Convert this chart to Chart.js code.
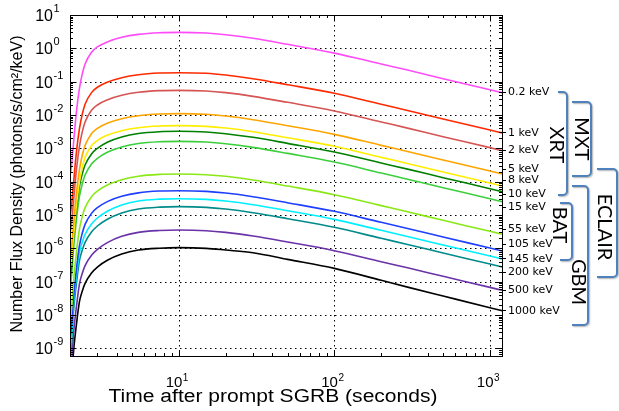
<!DOCTYPE html>
<html><head><meta charset="utf-8">
<script src="https://cdn.jsdelivr.net/npm/chart.js@4/dist/chart.umd.min.js"></script>
<style>html,body{margin:0;padding:0;background:#fff;overflow:hidden}</style>
</head><body>
<canvas id="c" width="619" height="411"></canvas>
<script>
// ---- data ----
const times = [2.0, 2.05, 2.1, 2.2, 2.3, 2.4, 2.5, 2.75, 3, 3.5, 4.3, 5.5, 7.5, 10, 15, 20, 30, 50, 100, 200, 300, 500, 1000, 1200];

const flux_0_2keV = [1.5e-4, 3.4e-4, 1.2e-3, 1.26e-2, 6.3e-2, 0.174, 0.34, 0.76, 1.10, 1.58, 2.14, 2.63, 2.95, 3.02, 2.88, 2.57, 2.0, 1.32, 0.72, 0.34, 0.219, 0.123, 0.0575, 0.0468];
const flux_1keV = [9.3e-6, 2.1e-5, 7.4e-5, 7.8e-4, 3.9e-3, 1.07e-2, 2.1e-2, 4.7e-2, 6.8e-2, 9.8e-2, 0.132, 0.162, 0.182, 0.186, 0.178, 0.158, 0.123, 0.0813, 0.0447, 0.0209, 0.0135, 7.6e-3, 3.55e-3, 2.9e-3];
const flux_2keV = [2.75e-6, 6.2e-6, 2.2e-5, 2.3e-4, 1.15e-3, 3.16e-3, 6.2e-3, 1.38e-2, 2.0e-2, 2.88e-2, 3.89e-2, 4.79e-2, 5.37e-2, 5.5e-2, 5.25e-2, 4.68e-2, 3.63e-2, 2.4e-2, 1.32e-2, 6.2e-3, 3.98e-3, 2.24e-3, 1.05e-3, 8.5e-4];
const flux_5keV = [5.5e-7, 1.23e-6, 4.37e-6, 4.57e-5, 2.3e-4, 6.3e-4, 1.23e-3, 2.75e-3, 3.98e-3, 5.75e-3, 7.76e-3, 9.55e-3, 1.07e-2, 1.10e-2, 1.05e-2, 9.33e-3, 7.24e-3, 4.79e-3, 2.63e-3, 1.23e-3, 7.94e-4, 4.47e-4, 2.09e-4, 1.70e-4];
const flux_8keV = [2.4e-7, 5.37e-7, 1.91e-6, 2.0e-5, 1.0e-4, 2.75e-4, 5.37e-4, 1.2e-3, 1.74e-3, 2.51e-3, 3.39e-3, 4.17e-3, 4.68e-3, 4.79e-3, 4.57e-3, 4.07e-3, 3.16e-3, 2.09e-3, 1.15e-3, 5.37e-4, 3.47e-4, 1.95e-4, 9.12e-5, 7.41e-5];
const flux_10keV = [1.15e-7, 3.24e-7, 1.62e-6, 1.48e-5, 7.24e-5, 1.74e-4, 3.16e-4, 6.76e-4, 1.0e-3, 1.55e-3, 2.19e-3, 2.79e-3, 3.16e-3, 3.24e-3, 3.09e-3, 2.75e-3, 2.14e-3, 1.41e-3, 7.76e-4, 3.63e-4, 2.34e-4, 1.32e-4, 6.17e-5, 5.01e-5];
const flux_15keV = [5.75e-8, 1.62e-7, 8.13e-7, 7.41e-6, 3.63e-5, 8.71e-5, 1.58e-4, 3.39e-4, 5.01e-4, 7.76e-4, 1.10e-3, 1.40e-3, 1.58e-3, 1.62e-3, 1.55e-3, 1.38e-3, 1.07e-3, 7.08e-4, 3.89e-4, 1.82e-4, 1.17e-4, 6.61e-5, 3.09e-5, 2.51e-5];
const flux_55keV = [6.03e-9, 1.70e-8, 8.51e-8, 7.76e-7, 3.80e-6, 9.12e-6, 1.66e-5, 3.55e-5, 5.25e-5, 8.13e-5, 1.15e-4, 1.46e-4, 1.66e-4, 1.70e-4, 1.62e-4, 1.45e-4, 1.12e-4, 7.41e-5, 4.07e-5, 1.91e-5, 1.23e-5, 6.92e-6, 3.24e-6, 2.63e-6];
const flux_105keV = [1.91e-9, 5.37e-9, 2.69e-8, 2.45e-7, 1.20e-6, 2.88e-6, 5.25e-6, 1.12e-5, 1.66e-5, 2.57e-5, 3.63e-5, 4.62e-5, 5.25e-5, 5.37e-5, 5.13e-5, 4.57e-5, 3.55e-5, 2.34e-5, 1.29e-5, 6.03e-6, 3.89e-6, 2.19e-6, 1.02e-6, 8.32e-7];
const flux_145keV = [7.76e-10, 2.75e-9, 1.95e-8, 1.55e-7, 7.41e-7, 1.55e-6, 2.63e-6, 5.37e-6, 8.13e-6, 1.32e-5, 2.0e-5, 2.63e-5, 2.99e-5, 3.09e-5, 2.95e-5, 2.63e-5, 2.04e-5, 1.35e-5, 7.41e-6, 3.47e-6, 2.24e-6, 1.26e-6, 5.89e-7, 4.79e-7];
const flux_200keV = [4.47e-10, 1.58e-9, 1.12e-8, 8.91e-8, 4.27e-7, 8.91e-7, 1.51e-6, 3.09e-6, 4.68e-6, 7.59e-6, 1.15e-5, 1.51e-5, 1.72e-5, 1.78e-5, 1.70e-5, 1.51e-5, 1.17e-5, 7.76e-6, 4.27e-6, 2.0e-6, 1.29e-6, 7.24e-7, 3.39e-7, 2.75e-7];
const flux_500keV = [8.91e-11, 3.16e-10, 2.24e-9, 1.78e-8, 8.51e-8, 1.78e-7, 3.02e-7, 6.17e-7, 9.33e-7, 1.51e-6, 2.29e-6, 3.02e-6, 3.43e-6, 3.55e-6, 3.39e-6, 3.02e-6, 2.34e-6, 1.55e-6, 8.51e-7, 3.98e-7, 2.57e-7, 1.45e-7, 6.76e-8, 5.50e-8];
const flux_1000keV = [2.63e-11, 9.33e-11, 6.61e-10, 5.25e-9, 2.51e-8, 5.25e-8, 8.91e-8, 1.82e-7, 2.75e-7, 4.47e-7, 6.76e-7, 8.91e-7, 1.01e-6, 1.05e-6, 1.0e-6, 8.91e-7, 7.41e-7, 4.68e-7, 2.51e-7, 1.10e-7, 6.76e-8, 3.72e-8, 1.66e-8, 1.35e-8];

const energyLabels = ['0.2 keV', '1 keV', '2 keV', '5 keV', '8 keV', '10 keV', '15 keV', '55 keV', '105 keV', '145 keV', '200 keV', '500 keV', '1000 keV'];
const energyLabelValues = [0.050, 3.0e-3, 8.9e-4, 2.4e-4, 1.12e-4, 4.3e-5, 1.8e-5, 3.8e-6, 1.35e-6, 5.0e-7, 1.95e-7, 5.6e-8, 1.4e-8];
const xTickExponents = [1, 2, 3];
const yTickExponents = [1, 0, -1, -2, -3, -4, -5, -6, -7, -8, -9];
const instruments = ['XRT', 'MXT', 'ECLAIR', 'BAT', 'GBM'];

const xTitle = 'Time after prompt SGRB (seconds)';
const yTitle = 'Number Flux Density (photons/s/cm\u00B2/keV)';

// ---- styles ----
const seriesList = [flux_0_2keV, flux_1keV, flux_2keV, flux_5keV, flux_8keV, flux_10keV, flux_15keV, flux_55keV, flux_105keV, flux_145keV, flux_200keV, flux_500keV, flux_1000keV];
const colors = ['#ff4cf8', '#ff2a00', '#d65454', '#ffa500', '#ffee00', '#008000', '#3ccf3c', '#8ae817', '#1f3fff', '#00f0ff', '#008b8b', '#6a32a8', '#000000'];

const datasets = seriesList.map((arr, i) => ({
  label: energyLabels[i],
  data: arr.map((v, j) => ({x: times[j], y: v})),
  borderColor: colors[i],
  borderWidth: 1.6,
  pointRadius: 0,
  fill: false,
  cubicInterpolationMode: 'monotone'
}));

const AXIS_FONT = '"Liberation Sans", Arial, sans-serif';

function drawPow(ctx, exp, x, yBase, baseSize, supSize, supRise, align) {
  const e = String(exp);
  ctx.font = baseSize + 'px ' + AXIS_FONT;
  const wb = ctx.measureText('10').width;
  ctx.font = supSize + 'px ' + AXIS_FONT;
  const ws = ctx.measureText(e).width;
  let start;
  if (align === 'center') start = x - (wb + ws) / 2;
  else start = x - wb;
  ctx.textAlign = 'left';
  ctx.textBaseline = 'alphabetic';
  ctx.font = baseSize + 'px ' + AXIS_FONT;
  ctx.fillText('10', start, yBase);
  ctx.font = supSize + 'px ' + AXIS_FONT;
  ctx.fillText(e, start + wb + 0.5, yBase - supRise);
}

function bracket(ctx, xl, xr, yt, yb) {
  const r = 4;
  ctx.beginPath();
  ctx.moveTo(xl, yt);
  ctx.lineTo(xr - r, yt);
  ctx.arcTo(xr, yt, xr, yt + r, r);
  ctx.lineTo(xr, yb - r);
  ctx.arcTo(xr, yb, xr - r, yb, r);
  ctx.lineTo(xl, yb);
  ctx.stroke();
}

const decor = {
  id: 'decor',
  beforeDatasetsDraw(chart) {
    const {ctx, chartArea: a, scales: {x, y}} = chart;
    ctx.save();
    ctx.strokeStyle = '#000';
    ctx.lineWidth = 1;
    ctx.setLineDash([1.5, 3.5]);
    xTickExponents.forEach(e => {
      const px = Math.round(x.getPixelForValue(Math.pow(10, e))) + 0.5;
      ctx.beginPath(); ctx.moveTo(px, a.top); ctx.lineTo(px, a.bottom); ctx.stroke();
    });
    yTickExponents.forEach(e => {
      const py = Math.round(y.getPixelForValue(Math.pow(10, e))) + 0.5;
      ctx.beginPath(); ctx.moveTo(a.left, py); ctx.lineTo(a.right, py); ctx.stroke();
    });
    ctx.restore();
  },
  afterDatasetsDraw(chart) {
    const {ctx, chartArea: a, scales: {x, y}} = chart;
    ctx.save();
    ctx.strokeStyle = '#000';
    ctx.lineWidth = 1;
    ctx.setLineDash([]);
    ctx.strokeRect(Math.round(a.left) + 0.5, Math.round(a.top) + 0.5, Math.round(a.right - a.left), Math.round(a.bottom - a.top));
    for (let d = 0; d <= 3; d++) {
      for (let k = 1; k <= 9; k++) {
        const v = k * Math.pow(10, d);
        if (v < x.min || v > x.max) continue;
        const px = Math.round(x.getPixelForValue(v)) + 0.5;
        const len = k === 1 ? 6 : 3;
        ctx.beginPath();
        ctx.moveTo(px, a.bottom); ctx.lineTo(px, a.bottom - len);
        ctx.moveTo(px, a.top); ctx.lineTo(px, a.top + len);
        ctx.stroke();
      }
    }
    for (let d = -10; d <= 1; d++) {
      for (let k = 1; k <= 9; k++) {
        const v = k * Math.pow(10, d);
        if (v < y.min || v > y.max * 1.0001) continue;
        const py = Math.round(y.getPixelForValue(v)) + 0.5;
        const len = k === 1 ? 6 : 3;
        ctx.beginPath();
        ctx.moveTo(a.left, py); ctx.lineTo(a.left + len, py);
        ctx.moveTo(a.right, py); ctx.lineTo(a.right - len, py);
        ctx.stroke();
      }
    }
    ctx.fillStyle = '#000';
    yTickExponents.forEach(e => {
      const py = y.getPixelForValue(Math.pow(10, e));
      drawPow(ctx, e, 53, py + 6, 16, 11, 9, 'right');
    });
    xTickExponents.forEach(e => {
      const px = x.getPixelForValue(Math.pow(10, e));
      drawPow(ctx, e, px - 2, a.bottom + 31, 15, 10, 6, 'center');
    });
    // axis titles
    ctx.font = '18px ' + AXIS_FONT;
    ctx.textAlign = 'center';
    ctx.textBaseline = 'alphabetic';
    const tw = ctx.measureText(xTitle).width;
    ctx.save();
    ctx.translate(273, 402);
    ctx.scale(329 / tw, 1);
    ctx.fillText(xTitle, 0, 0);
    ctx.restore();
    ctx.save();
    ctx.translate(22, 184);
    ctx.rotate(-Math.PI / 2);
    ctx.font = '16px ' + AXIS_FONT;
    ctx.fillText(yTitle, 0, 0);
    ctx.restore();
    // energy labels
    ctx.font = '11px "DejaVu Sans", sans-serif';
    ctx.textAlign = 'left';
    ctx.textBaseline = 'middle';
    energyLabels.forEach((t, i) => {
      const py = y.getPixelForValue(energyLabelValues[i]);
      ctx.beginPath();
      ctx.moveTo(a.right, Math.round(py) + 0.5);
      ctx.lineTo(a.right + 4, Math.round(py) + 0.5);
      ctx.stroke();
      ctx.fillText(t, a.right + 6, py + 0.5);
    });
    // instrument brackets
    ctx.save();
    ctx.strokeStyle = '#4f81bd';
    ctx.lineWidth = 2;
    ctx.shadowColor = 'rgba(0,0,0,0.3)';
    ctx.shadowOffsetX = 1;
    ctx.shadowOffsetY = 1;
    ctx.shadowBlur = 1.5;
    bracket(ctx, 558, 567, 92, 195);
    bracket(ctx, 572, 591, 102, 176);
    bracket(ctx, 597, 617, 169, 277);
    bracket(ctx, 560, 572, 203, 260);
    bracket(ctx, 572, 588, 186, 325);
    ctx.restore();
    const names = [[instruments[0], 557, 145], [instruments[1], 582, 139], [instruments[2], 605, 227], [instruments[3], 560, 225], [instruments[4], 579, 282]];
    ctx.font = '20px Lato, "Open Sans", sans-serif';
    ctx.textAlign = 'center';
    ctx.textBaseline = 'middle';
    names.forEach(([t, cx, cy]) => {
      ctx.save();
      ctx.translate(cx, cy);
      ctx.rotate(Math.PI / 2);
      ctx.fillText(t, 0, 1);
      ctx.restore();
    });
    ctx.restore();
  }
};

new Chart(document.getElementById('c'), {
  type: 'line',
  data: {datasets},
  options: {
    responsive: false,
    devicePixelRatio: 1,
    animation: false,
    layout: {padding: {left: 0, top: 15, right: 117, bottom: 0}},
    plugins: {legend: {display: false}, tooltip: {enabled: false}},
    scales: {
      x: {
        type: 'logarithmic', min: 2, max: 1195,
        ticks: {display: false}, grid: {display: false}, border: {display: false},
        afterFit: s => { s.height = 55; }
      },
      y: {
        type: 'logarithmic', min: 5.9e-10, max: 10,
        ticks: {display: false}, grid: {display: false}, border: {display: false},
        afterFit: s => { s.width = 70; }
      }
    }
  },
  plugins: [decor]
});
</script>
</body></html>
